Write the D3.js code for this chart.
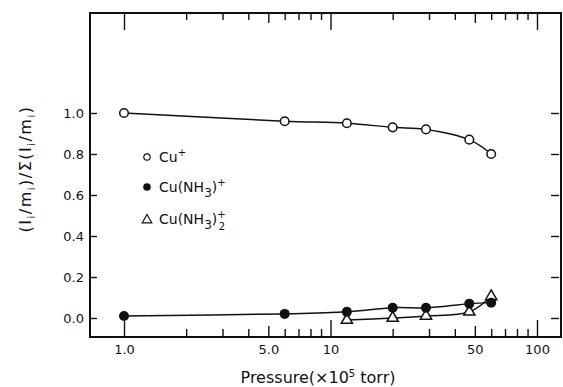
<!DOCTYPE html>
<html lang="en">
<head>
<meta charset="UTF-8">
<title>Ion fraction vs pressure</title>
<script src="https://d3js.org/d3.v7.min.js"></script>
<style>
  body { margin: 0; background: #fff; }
  text { font-family: "DejaVu Sans", sans-serif; fill: #111; }
  .axis path { display: none; }
  .axis line { stroke: #111; stroke-width: 1.4; }
  .axis text { font-size: 13px; }
</style>
</head>
<body>
<div id="chart"></div>
<script>
// data
var pressureCu = [1.0, 6.0, 12, 20, 29, 47, 60];
var fracCu = [1.0, 0.96, 0.95, 0.93, 0.92, 0.87, 0.80];

var pressureCuNH3 = [1.0, 6.0, 12, 20, 29, 47, 60];
var fracCuNH3 = [0.01, 0.02, 0.03, 0.05, 0.05, 0.07, 0.075];

var pressureCuNH32 = [12, 20, 29, 47, 60];
var fracCuNH32 = [-0.01, 0.0, 0.01, 0.03, 0.105];

var xLabelTicks = [1, 5, 10, 50, 100];
var xLabelText = ["1.0", "5.0", "10", "50", "100"];
var yTicks = [0, 0.2, 0.4, 0.6, 0.8, 1.0];

var W = 563, H = 387;
var frame = {left: 90, right: 561, top: 13, bottom: 337};

var svg = d3.select("#chart").append("svg")
  .attr("width", W).attr("height", H);

var x = d3.scaleLog().domain([1, 100]).range([124, 537]);
var y = d3.scaleLinear().domain([0, 1]).range([318, 113]);

// tick groups for the log axis
var majorX = [1, 10, 100];
var midX = [5, 50];
var minorX = [];
[1, 10].forEach(function(d) {
  [2, 3, 4, 6, 7, 8, 9].forEach(function(m) { minorX.push(d * m); });
});

function logTicks(g, vals, len, top) {
  var ax = top ? d3.axisBottom(x) : d3.axisTop(x);
  ax.tickValues(vals).tickSize(len).tickFormat("");
  g.call(ax);
}

// bottom ticks (pointing up)
var gb = svg.append("g").attr("class", "axis").attr("transform", "translate(0," + frame.bottom + ")");
logTicks(gb.append("g"), majorX, 17, false);
logTicks(gb.append("g"), midX, 11, false);
logTicks(gb.append("g"), minorX, 8, false);

// top ticks (pointing down)
var gt = svg.append("g").attr("class", "axis").attr("transform", "translate(0," + frame.top + ")");
logTicks(gt.append("g"), majorX, 17, true);
logTicks(gt.append("g"), midX, 10, true);
logTicks(gt.append("g"), minorX, 7, true);

// x tick labels
svg.append("g").attr("class", "axis")
  .attr("transform", "translate(0," + (frame.bottom + 5) + ")")
  .call(d3.axisBottom(x).tickValues(xLabelTicks).tickSize(0)
    .tickFormat(function(d, i) { return xLabelText[i]; }));

// left y axis, ticks inward
svg.append("g").attr("class", "axis")
  .attr("transform", "translate(" + frame.left + ",0)")
  .call(d3.axisRight(y).tickValues(yTicks).tickSize(7).tickFormat(""));
svg.append("g").attr("class", "axis")
  .attr("transform", "translate(" + (frame.left - 3) + ",0)")
  .call(d3.axisLeft(y).tickValues(yTicks).tickSize(0).tickFormat(d3.format(".1f")));

// right y axis, ticks inward
svg.append("g").attr("class", "axis")
  .attr("transform", "translate(" + (frame.right - 2) + ",0)")
  .call(d3.axisLeft(y).tickValues(yTicks).tickSize(8).tickFormat(""));

// frame
svg.append("rect")
  .attr("x", frame.left).attr("y", frame.top)
  .attr("width", frame.right - frame.left).attr("height", frame.bottom - frame.top)
  .attr("fill", "none").attr("stroke", "#111").attr("stroke-width", 2);

var line = d3.line()
  .x(function(d) { return x(d[0]); })
  .y(function(d) { return y(d[1]); })
  .curve(d3.curveCatmullRom.alpha(0.5));

function zipData(px, py) {
  return px.map(function(p, i) { return [p, py[i]]; });
}

var dCu = zipData(pressureCu, fracCu);
var dNH3 = zipData(pressureCuNH3, fracCuNH3);
var dNH32 = zipData(pressureCuNH32, fracCuNH32);

[dCu, dNH3, dNH32].forEach(function(d) {
  svg.append("path").datum(d)
    .attr("d", line)
    .attr("fill", "none").attr("stroke", "#111").attr("stroke-width", 1.5);
});

var tri = d3.symbol().type(d3.symbolTriangle).size(55);

svg.selectAll(".tri").data(dNH32).enter().append("path")
  .attr("class", "tri")
  .attr("d", tri)
  .attr("transform", function(d) { return "translate(" + x(d[0]) + "," + y(d[1]) + ")"; })
  .attr("fill", "#fff").attr("stroke", "#111").attr("stroke-width", 1.5);

svg.selectAll(".filled").data(dNH3).enter().append("circle")
  .attr("class", "filled")
  .attr("cx", function(d) { return x(d[0]); })
  .attr("cy", function(d) { return y(d[1]); })
  .attr("r", 5).attr("fill", "#111");

svg.selectAll(".open").data(dCu).enter().append("circle")
  .attr("class", "open")
  .attr("cx", function(d) { return x(d[0]); })
  .attr("cy", function(d) { return y(d[1]); })
  .attr("r", 4.3).attr("fill", "#fff").attr("stroke", "#111").attr("stroke-width", 1.5);

// legend
var lg = svg.append("g").attr("font-size", 14);
lg.append("circle").attr("cx", 147).attr("cy", 157).attr("r", 3.2)
  .attr("fill", "#fff").attr("stroke", "#111").attr("stroke-width", 1.2);
var t1 = lg.append("text").attr("x", 159).attr("y", 162);
t1.append("tspan").text("Cu");
t1.append("tspan").attr("dy", -6).attr("font-size", 10).text("+");

lg.append("circle").attr("cx", 147).attr("cy", 187).attr("r", 3.8).attr("fill", "#111");
var t2 = lg.append("text").attr("x", 159).attr("y", 192);
t2.append("tspan").text("Cu(NH");
t2.append("tspan").attr("dy", 5).attr("font-size", 12).text("3");
t2.append("tspan").attr("dy", -5).text(")");
t2.append("tspan").attr("dy", -6).attr("font-size", 10).text("+");

lg.append("path").attr("d", d3.symbol().type(d3.symbolTriangle).size(40))
  .attr("transform", "translate(147,220)")
  .attr("fill", "#fff").attr("stroke", "#111").attr("stroke-width", 1.2);
var t3 = lg.append("text").attr("x", 159).attr("y", 224);
t3.append("tspan").text("Cu(NH");
t3.append("tspan").attr("dy", 5).attr("font-size", 12).text("3");
t3.append("tspan").attr("dy", -5).text(")");
t3.append("tspan").attr("dy", -6).attr("font-size", 10).text("+");
t3.append("tspan").attr("dy", 12).attr("dx", -7).attr("font-size", 10).text("2");

// axis titles
var yt = svg.append("text")
  .attr("transform", "translate(31,169) rotate(-90)")
  .attr("text-anchor", "middle").attr("font-size", 16)
  .attr("letter-spacing", 1.5);
yt.append("tspan").text("(I");
yt.append("tspan").attr("dy", 4).attr("font-size", 10).text("i");
yt.append("tspan").attr("dy", -4).text("/m");
yt.append("tspan").attr("dy", 4).attr("font-size", 10).text("i");
yt.append("tspan").attr("dy", -4).text(")/\u03A3(I");
yt.append("tspan").attr("dy", 4).attr("font-size", 10).text("i");
yt.append("tspan").attr("dy", -4).text("/m");
yt.append("tspan").attr("dy", 4).attr("font-size", 10).text("i");
yt.append("tspan").attr("dy", -4).text(")");

var xt = svg.append("text")
  .attr("x", 318).attr("y", 383)
  .attr("text-anchor", "middle").attr("font-size", 16);
xt.append("tspan").text("Pressure(\u00D710");
xt.append("tspan").attr("dy", -6).attr("font-size", 10).text("5");
xt.append("tspan").attr("dy", 6).text(" torr)");
</script>
</body>
</html>
